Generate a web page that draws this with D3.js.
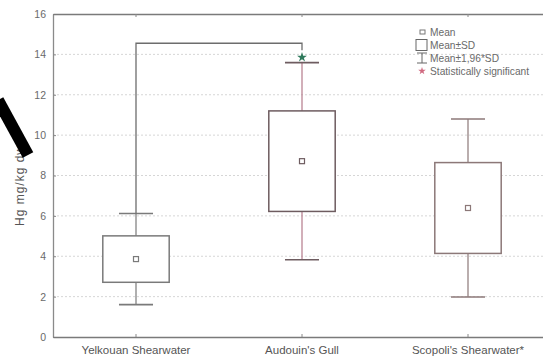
<!DOCTYPE html>
<html>
<head>
<meta charset="utf-8">
<script src="https://cdn.jsdelivr.net/npm/d3@7"></script>
<style>
  html, body { margin: 0; padding: 0; background: #fff; }
  svg { display: block; font-family: "Liberation Sans", Arial, sans-serif; }
</style>
</head>
<body>
<svg id="chart" width="543" height="359"></svg>
<script>
// Hg concentration by species: mean, SD, and a 1.96*SD range
const categories = ["Yelkouan Shearwater", "Audouin's Gull", "Scopoli's Shearwater*"];
const means = [3.86, 8.71, 6.39];
const sds = [1.15, 2.49, 2.25];
const yTicks = [0, 2, 4, 6, 8, 10, 12, 14, 16];
const legendLabels = ["Mean", "Mean\u00b1SD", "Mean\u00b11,96*SD", "Statistically significant"];
// significance bracket between the first two species, drawn at this level
const significancePair = [0, 1];
const significanceLevel = 14.55;

const boxStroke = ["#7a7a7a", "#6e5c60", "#8c7878"];
const whiskerStroke = ["#7a7a7a", "#b47a8a", "#8c7878"];

const svg = d3.select("#chart");
const margin = { left: 53, top: 14, bottom: 337, right: 551 };

const x = d3.scaleBand().domain(categories).range([margin.left, margin.right]);
const y = d3.scaleLinear().domain([0, 16]).range([margin.bottom, margin.top]);

// dotted horizontal grid
svg.append("g").selectAll("line")
  .data(yTicks.filter(t => t > 0 && t < 16))
  .join("line")
  .attr("x1", margin.left).attr("x2", 543)
  .attr("y1", d => y(d)).attr("y2", d => y(d))
  .attr("stroke", "#d6d6d6").attr("stroke-width", 1)
  .attr("stroke-dasharray", "2,2");

// left axis with inward ticks
const yAxis = svg.append("g")
  .attr("transform", `translate(${margin.left},0)`)
  .call(d3.axisLeft(y).tickValues(yTicks).tickSize(-3).tickPadding(7).tickSizeOuter(0));
yAxis.select(".domain").attr("stroke", "#8a8a8a").attr("stroke-width", 1.3);
yAxis.selectAll(".tick line").attr("stroke", "#8a8a8a");
yAxis.selectAll("text").attr("fill", "#6a6a6a").attr("font-size", 10.5);

// bottom axis
const xAxis = svg.append("g")
  .attr("transform", `translate(0,${margin.bottom})`)
  .call(d3.axisBottom(x).tickSize(-3).tickPadding(9).tickSizeOuter(0));
xAxis.select(".domain").attr("stroke", "#7a7a7a").attr("stroke-width", 1.3);
xAxis.selectAll(".tick line").attr("stroke", "#8a8a8a");
xAxis.selectAll("text").attr("fill", "#555").attr("font-size", 11.5);

// top frame with ticks
const xTop = svg.append("g")
  .attr("transform", `translate(0,${margin.top})`)
  .call(d3.axisTop(x).tickSize(-3).tickFormat("").tickSizeOuter(0));
xTop.select(".domain").attr("stroke", "#7a7a7a").attr("stroke-width", 1.3);
xTop.selectAll(".tick line").attr("stroke", "#8a8a8a");

// y-axis title
svg.append("text")
  .attr("transform", "translate(24,226) rotate(-90)")
  .attr("text-anchor", "start")
  .attr("font-size", 12)
  .attr("letter-spacing", 1)
  .attr("fill", "#555")
  .text("Hg mg/kg dw");

// boxes and whiskers
const boxW = x.bandwidth() * 0.4;
const capW = x.bandwidth() * 0.205;
const groups = svg.append("g").selectAll("g")
  .data(categories.map((c, i) => ({ c, i, m: means[i], s: sds[i] })))
  .join("g");

groups.append("line")
  .attr("x1", d => x(d.c) + x.bandwidth() / 2).attr("x2", d => x(d.c) + x.bandwidth() / 2)
  .attr("y1", d => y(d.m + 1.96 * d.s)).attr("y2", d => y(d.m - 1.96 * d.s))
  .attr("stroke", d => whiskerStroke[d.i]).attr("stroke-width", 1.2);
groups.selectAll(".cap")
  .data(d => [d.m + 1.96 * d.s, d.m - 1.96 * d.s].map(v => ({ ...d, v })))
  .join("line")
  .attr("x1", d => x(d.c) + x.bandwidth() / 2 - capW / 2)
  .attr("x2", d => x(d.c) + x.bandwidth() / 2 + capW / 2)
  .attr("y1", d => y(d.v)).attr("y2", d => y(d.v))
  .attr("stroke", d => boxStroke[d.i]).attr("stroke-width", 1.6);
groups.append("rect")
  .attr("x", d => x(d.c) + x.bandwidth() / 2 - boxW / 2)
  .attr("width", boxW)
  .attr("y", d => y(d.m + d.s))
  .attr("height", d => y(d.m - d.s) - y(d.m + d.s))
  .attr("fill", "#fff")
  .attr("stroke", d => boxStroke[d.i]).attr("stroke-width", 1.5);
groups.append("rect")
  .attr("x", d => x(d.c) + x.bandwidth() / 2 - 2.5)
  .attr("y", d => y(d.m) - 2.5)
  .attr("width", 5).attr("height", 5)
  .attr("fill", "#fff")
  .attr("stroke", d => boxStroke[d.i]).attr("stroke-width", 1.2);

// significance bracket and star
const [ia, ib] = significancePair;
const xa = x(categories[ia]) + x.bandwidth() / 2;
const xb = x(categories[ib]) + x.bandwidth() / 2;
const ya = y(means[ia] + 1.96 * sds[ia]);
const yLevel = y(significanceLevel);
svg.append("path")
  .attr("d", `M${xa},${ya}V${yLevel}H${xb}V${yLevel + 7}`)
  .attr("fill", "none").attr("stroke", "#6d6d6d").attr("stroke-width", 1.3);
svg.append("path")
  .attr("d", d3.symbol(d3.symbolStar, 30)())
  .attr("transform", `translate(${xb},${yLevel + 14})`)
  .attr("fill", "#2f7a5c");

// legend
const lg = svg.append("g");
const lx = 430;
const rows = [32, 45, 58, 71];
lg.selectAll("text").data(legendLabels).join("text")
  .attr("x", lx).attr("y", (d, i) => rows[i] + 4)
  .attr("font-size", 10.2).attr("fill", "#6a6a6a").text(d => d);
lg.append("rect").attr("x", 420).attr("y", rows[0] - 2).attr("width", 5).attr("height", 4)
  .attr("fill", "none").attr("stroke", "#777").attr("stroke-width", 1);
lg.append("rect").attr("x", 416).attr("y", rows[1] - 5.5).attr("width", 11).attr("height", 11)
  .attr("fill", "none").attr("stroke", "#666").attr("stroke-width", 1);
lg.append("path")
  .attr("d", `M417,${rows[2] - 5}H427M422,${rows[2] - 5}V${rows[2] + 5}M417,${rows[2] + 5}H427`)
  .attr("fill", "none").attr("stroke", "#666").attr("stroke-width", 1);
lg.append("path")
  .attr("d", d3.symbol(d3.symbolStar, 18)())
  .attr("transform", `translate(422,${rows[3]})`)
  .attr("fill", "#d06a80");

// black diagonal bar over the axis title
svg.append("line")
  .attr("x1", -2).attr("y1", 100).attr("x2", 28).attr("y2", 155)
  .attr("stroke", "#000").attr("stroke-width", 12);
</script>
</body>
</html>
